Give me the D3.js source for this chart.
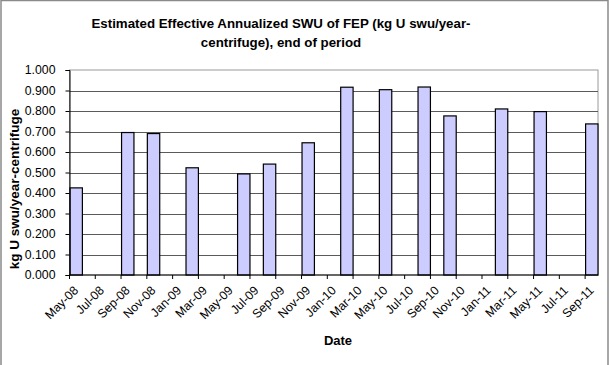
<!DOCTYPE html>
<html>
<head>
<meta charset="utf-8">
<script src="https://cdn.jsdelivr.net/npm/d3@7"></script>
<style>
  body { margin: 0; background: #fff; }
  svg { display: block; }
  text { font-family: "Liberation Sans", Arial, sans-serif; }
</style>
</head>
<body>
<svg id="chart" width="610" height="365"></svg>
<script>
// ---- data ----
const barDates = ["2008-05","2008-09","2008-11","2009-02","2009-06","2009-08","2009-11",
                  "2010-02","2010-05","2010-08","2010-10","2011-02","2011-05","2011-09"];
const barValues = [0.425, 0.695, 0.690, 0.523, 0.493, 0.541, 0.645,
                   0.916, 0.904, 0.917, 0.776, 0.810, 0.797, 0.737];
const xTickLabels = ["May-08","Jul-08","Sep-08","Nov-08","Jan-09","Mar-09","May-09","Jul-09",
                     "Sep-09","Nov-09","Jan-10","Mar-10","May-10","Jul-10","Sep-10","Nov-10",
                     "Jan-11","Mar-11","May-11","Jul-11","Sep-11"];
const yTicks = [0, 0.1, 0.2, 0.3, 0.4, 0.5, 0.6, 0.7, 0.8, 0.9, 1.0];
const titleLines = ["Estimated Effective Annualized SWU of FEP (kg U swu/year-", "centrifuge), end of period"];
const yTitle = "kg U swu/year-centrifuge";
const xTitle = "Date";

// ---- layout ----
const W = 610, H = 365;
const plot = { left: 69.5, right: 598, top: 70, bottom: 275 };
const svg = d3.select("#chart");

const parse = d3.timeParse("%Y-%m");
const fmtKey = d3.timeFormat("%Y-%m");
const months = d3.timeMonth.range(parse("2008-05"), d3.timeMonth.offset(parse("2011-09"), 1)).map(fmtKey);
const labelParse = d3.timeParse("%b-%y");

const x = d3.scaleBand().domain(months).range([plot.left, plot.right]).padding(0);
const y = d3.scaleLinear().domain([0, 1]).range([plot.bottom, plot.top]);

// outer border
svg.append("rect").attr("x", 1).attr("y", 0.5).attr("width", 607).attr("height", 380)
  .attr("fill", "#fff").attr("stroke", "#8a8a8a").attr("stroke-width", 1.5);

// plot area
svg.append("rect").attr("x", plot.left).attr("y", plot.top)
  .attr("width", plot.right - plot.left).attr("height", plot.bottom - plot.top)
  .attr("fill", "#fff").attr("stroke", "#9a9a9a").attr("stroke-width", 1);

// gridlines
svg.append("g").selectAll("line").data(yTicks.filter(d => d > 0 && d < 1)).join("line")
  .attr("x1", plot.left).attr("x2", plot.right)
  .attr("y1", d => Math.round(y(d)) + 0.5).attr("y2", d => Math.round(y(d)) + 0.5)
  .attr("stroke", "#5a5a5a").attr("stroke-width", 1);

// bars
svg.append("g").selectAll("rect").data(barDates.map((d, i) => ({ d, v: barValues[i] }))).join("rect")
  .attr("x", d => x(d.d) + 0.5).attr("width", x.bandwidth() - 0.5)
  .attr("y", d => y(d.v)).attr("height", d => y(0) - y(d.v))
  .attr("fill", "#ccccff").attr("stroke", "#000").attr("stroke-width", 1.2);

// y axis
const yAxis = svg.append("g").attr("transform", `translate(${plot.left},0)`)
  .call(d3.axisLeft(y).tickValues(yTicks).tickFormat(d3.format(".3f")).tickSize(4).tickPadding(10));
yAxis.select(".domain").attr("stroke", "#000");
yAxis.selectAll(".tick line").attr("stroke", "#000");
yAxis.selectAll(".tick text").attr("font-size", 12.3).attr("fill", "#000")
  .style("font-family", '"Liberation Sans", Arial, sans-serif');

// x axis line
svg.append("line").attr("x1", plot.left).attr("x2", plot.right)
  .attr("y1", plot.bottom).attr("y2", plot.bottom).attr("stroke", "#000");

// x ticks at start of labeled months
const tickKeys = xTickLabels.map(l => fmtKey(labelParse(l)));
svg.append("g").selectAll("line").data(tickKeys).join("line")
  .attr("x1", d => x(d)).attr("x2", d => x(d))
  .attr("y1", plot.bottom).attr("y2", plot.bottom + 4).attr("stroke", "#000");

// x labels
svg.append("g").selectAll("text").data(xTickLabels).join("text")
  .attr("transform", l => {
    const k = fmtKey(labelParse(l));
    return `translate(${x(k) + x.bandwidth() / 2},${plot.bottom + 13}) rotate(-45)`;
  })
  .attr("text-anchor", "end").attr("dy", "0.35em")
  .attr("font-size", 12.3).attr("fill", "#000").text(l => l);

// title
svg.append("g").selectAll("text").data(titleLines).join("text")
  .attr("x", 281).attr("y", (d, i) => 28 + i * 19)
  .attr("text-anchor", "middle").attr("font-size", 13.3).attr("font-weight", "bold").text(d => d);

// axis titles
svg.append("text").attr("transform", `translate(19,189) rotate(-90)`)
  .attr("text-anchor", "middle").attr("font-size", 13.5).attr("font-weight", "bold").text(yTitle);
svg.append("text").attr("x", 338).attr("y", 345)
  .attr("text-anchor", "middle").attr("font-size", 13).attr("font-weight", "bold").text(xTitle);
</script>
</body>
</html>
